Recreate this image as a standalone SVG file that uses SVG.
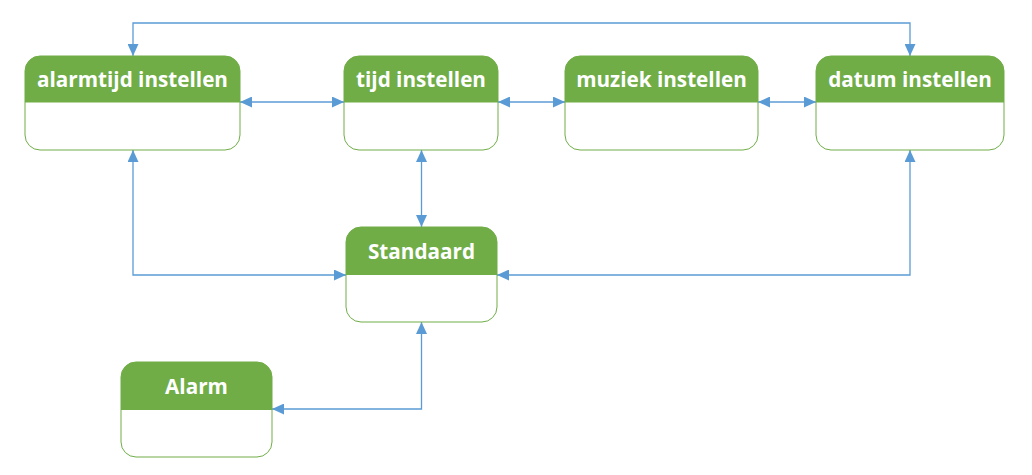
<svg xmlns="http://www.w3.org/2000/svg" width="1032" height="475" viewBox="0 0 1032 475">
<style>
.body{fill:#fff;stroke:#70AD47;stroke-width:1}
.head{fill:#70AD47}
.t{font-family:"Open Sans","Noto Sans","Liberation Sans",sans-serif;font-weight:bold;font-size:20.7px;fill:#fff;text-anchor:middle}
.c{fill:none;stroke:#5B9BD5;stroke-width:1.3}
</style>
<defs>
<marker id="ah" viewBox="0 0 12 11" refX="12" refY="5.5" markerWidth="12" markerHeight="11" markerUnits="userSpaceOnUse" orient="auto-start-reverse">
<path d="M0,0 L12,5.5 L0,11 Z" fill="#5B9BD5"/>
</marker>
</defs>
<rect width="1032" height="475" fill="#fff"/>
<g id="connectors">
<path class="c" d="M133,56 V23 H910 V56" marker-start="url(#ah)" marker-end="url(#ah)"/>
<path class="c" d="M240,102 H344" marker-start="url(#ah)" marker-end="url(#ah)"/>
<path class="c" d="M498,102 H565" marker-start="url(#ah)" marker-end="url(#ah)"/>
<path class="c" d="M758,102 H816" marker-start="url(#ah)" marker-end="url(#ah)"/>
<path class="c" d="M421.5,150 V227" marker-start="url(#ah)" marker-end="url(#ah)"/>
<path class="c" d="M133,150 V275 H346" marker-start="url(#ah)" marker-end="url(#ah)"/>
<path class="c" d="M910,150 V275 H497" marker-start="url(#ah)" marker-end="url(#ah)"/>
<path class="c" d="M421.5,322 V409 H272" marker-start="url(#ah)" marker-end="url(#ah)"/>
</g>
<g id="alarmtijd">
<rect class="body" x="25" y="56" width="215" height="94" rx="15"/>
<path class="head" d="M25,102.5 V71 A15,15 0 0 1 40,56 H225 A15,15 0 0 1 240,71 V102.5 Z"/>
<text class="t" x="132.5" y="86.5">alarmtijd instellen</text>
</g>
<g id="tijd">
<rect class="body" x="344" y="56" width="154" height="94" rx="15"/>
<path class="head" d="M344,102.5 V71 A15,15 0 0 1 359,56 H483 A15,15 0 0 1 498,71 V102.5 Z"/>
<text class="t" x="421" y="86.5">tijd instellen</text>
</g>
<g id="muziek">
<rect class="body" x="565" y="56" width="193" height="94" rx="15"/>
<path class="head" d="M565,102.5 V71 A15,15 0 0 1 580,56 H743 A15,15 0 0 1 758,71 V102.5 Z"/>
<text class="t" x="661.5" y="86.5">muziek instellen</text>
</g>
<g id="datum">
<rect class="body" x="816" y="56" width="188" height="94" rx="15"/>
<path class="head" d="M816,102.5 V71 A15,15 0 0 1 831,56 H989 A15,15 0 0 1 1004,71 V102.5 Z"/>
<text class="t" x="910" y="86.5">datum instellen</text>
</g>
<g id="standaard">
<rect class="body" x="346" y="227" width="151" height="95" rx="15"/>
<path class="head" d="M346,275 V242 A15,15 0 0 1 361,227 H482 A15,15 0 0 1 497,242 V275 Z"/>
<text class="t" x="421.5" y="258.5">Standaard</text>
</g>
<g id="alarm">
<rect class="body" x="121" y="362" width="151" height="95" rx="15"/>
<path class="head" d="M121,410 V377 A15,15 0 0 1 136,362 H257 A15,15 0 0 1 272,377 V410 Z"/>
<text class="t" x="196.5" y="393.5">Alarm</text>
</g>
</svg>
